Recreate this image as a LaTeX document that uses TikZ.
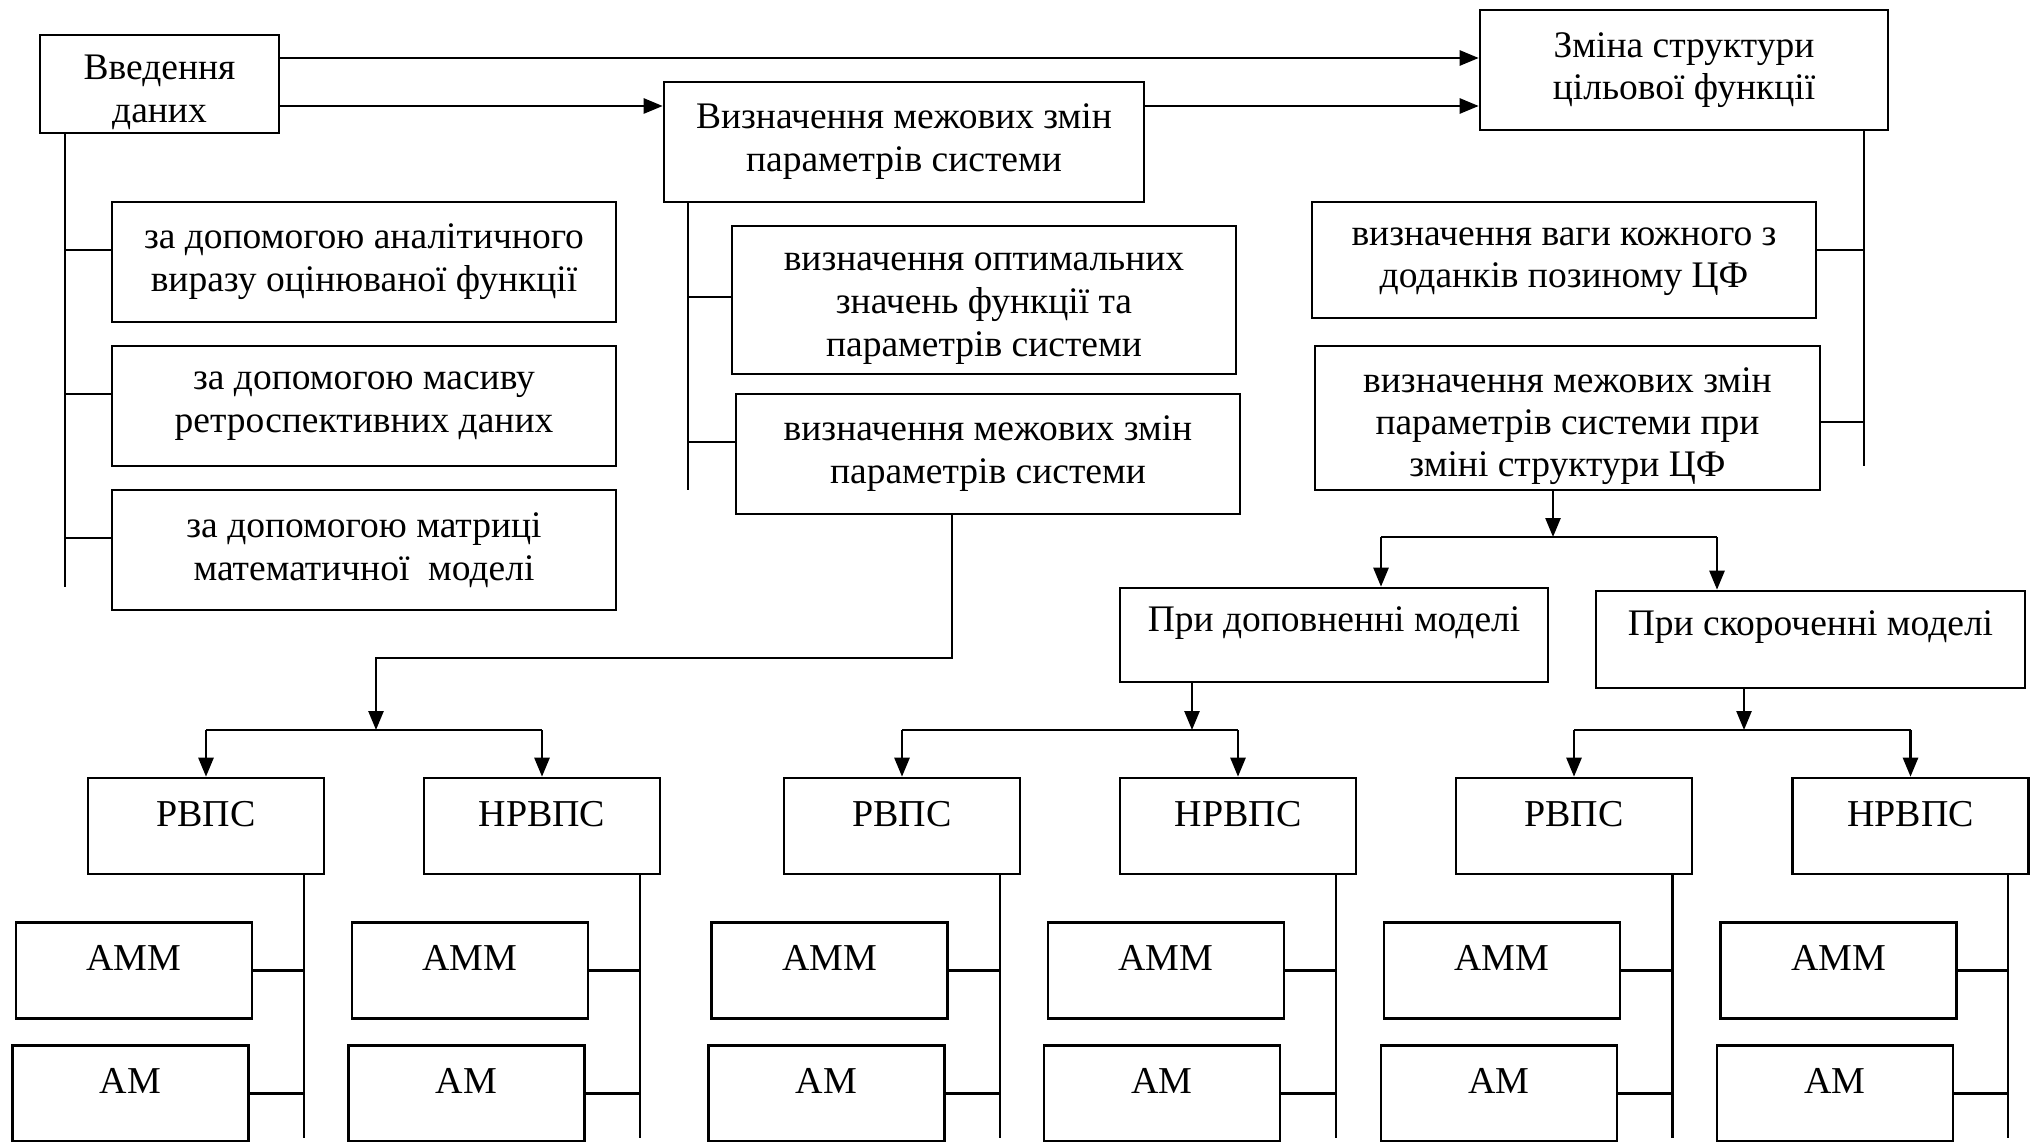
\documentclass[tikz,border=0pt]{standalone}
\usepackage{fontspec}
\setmainfont{Liberation Serif}
\usetikzlibrary{arrows.meta}
\newcommand{\boxfont}{\fontsize{37.5}{43}\selectfont}
\newcommand{\sidefont}{\fontsize{37.5}{42}\selectfont}
\newcommand{\leaffont}{\fontsize{38}{44}\selectfont}
\newcommand{\pushdown}[1]{\rule{0pt}{#1}}

\begin{document}
\begin{tikzpicture}[x=1pt, y=-1pt, line width=2.6pt,
  box/.style={draw, rectangle, align=center, inner sep=0pt, font=\boxfont},
  sidebox/.style={box, font=\sidefont},
  casebox/.style={box, font=\sidefont, text height=21pt, text depth=29pt},
  leaf/.style={draw, rectangle, inner sep=0pt, font=\leaffont, text height=26pt, text depth=26pt, minimum width=236pt, minimum height=96pt},
  arr/.style={-{Triangle[length=19pt, width=15pt]}}]
  \useasboundingbox (0,0) rectangle (2034,1142);

  \node[box, minimum width=239pt, minimum height=98pt] (vvod) at (159.5,84) {\pushdown{41pt}Введення\\даних};
  \node[box, minimum width=480pt, minimum height=120pt] (mezh) at (904,142) {Визначення межових змін\\параметрів системи};
  \node[sidebox, minimum width=408pt, minimum height=120pt] (zmina) at (1684,70) {Зміна структури\\цільової функції};

  \node[box, minimum width=504pt, minimum height=120pt] (analit) at (364,262) {за допомогою аналітичного\\виразу оцінюваної функції};
  \node[box, minimum width=504pt, minimum height=120pt] (masyv) at (364,406) {за допомогою масиву\\ретроспективних даних};
  \node[box, minimum width=504pt, minimum height=120pt] (matr) at (364,550) {за допомогою матриці\\математичної\ \ моделі};

  \node[box, minimum width=504pt, minimum height=148pt] (optim) at (984,300) {\pushdown{35pt}визначення оптимальних\\значень функції та\\параметрів системи};
  \node[box, minimum width=504pt, minimum height=120pt] (mezh2) at (988,454) {визначення межових змін\\параметрів системи};

  \node[sidebox, minimum width=504pt, minimum height=116pt] (vaga) at (1564,260) {\pushdown{21pt}визначення ваги кожного з\\доданків позиному ЦФ};
  \node[sidebox, minimum width=505pt, minimum height=144pt] (mezh3) at (1567.5,418) {\pushdown{42pt}визначення межових змін\\параметрів системи при\\зміні структури ЦФ};

  \node[casebox, minimum width=428pt, minimum height=94pt] (dop) at (1334,635) {При доповненні моделі};
  \node[casebox, minimum width=429pt, minimum height=97pt] (skor) at (1810.5,639.5) {При скороченні моделі};

  \node[leaf] (rvps1) at (206,826) {РВПС};
  \node[leaf] (nrvps1) at (542,826) {НРВПС};
  \node[leaf] (rvps2) at (902,826) {РВПС};
  \node[leaf] (nrvps2) at (1238,826) {НРВПС};
  \node[leaf] (rvps3) at (1574,826) {РВПС};
  \node[leaf] (nrvps3) at (1910.5,826) {НРВПС};

  \node[leaf] (amm1) at (134,970.5) {АММ};
  \node[leaf] (am1) at (130.5,1093.5) {АМ};
  \node[leaf] (amm2) at (470,970.5) {АММ};
  \node[leaf] (am2) at (466.5,1093.5) {АМ};
  \node[leaf] (amm3) at (829.5,970.5) {АММ};
  \node[leaf] (am3) at (826.5,1093.5) {АМ};
  \node[leaf] (amm4) at (1166,970.5) {АММ};
  \node[leaf] (am4) at (1162,1093.5) {АМ};
  \node[leaf] (amm5) at (1502,970.5) {АММ};
  \node[leaf] (am5) at (1499,1093.5) {АМ};
  \node[leaf] (amm6) at (1838.5,970.5) {АММ};
  \node[leaf] (am6) at (1835,1093.5) {АМ};

  \draw[arr] ([yshift=26pt]vvod.east) -- ([yshift=26pt]vvod.east -| zmina.west);
  \draw[arr] ([yshift=-22pt]vvod.east) -- ([yshift=-22pt]vvod.east -| mezh.west);
  \draw[arr] ([yshift=36pt]mezh.east) -- ([yshift=36pt]mezh.east -| zmina.west);

  \coordinate (ta) at (65,587);
  \draw (vvod.south -| ta) -- (ta);
  \draw ([yshift=12pt]analit.west) -- ([yshift=12pt]analit.west -| ta);
  \draw ([yshift=12pt]masyv.west) -- ([yshift=12pt]masyv.west -| ta);
  \draw ([yshift=12pt]matr.west) -- ([yshift=12pt]matr.west -| ta);

  \coordinate (tb) at (688,490);
  \draw (mezh.south -| tb) -- (tb);
  \draw ([yshift=3pt]optim.west) -- ([yshift=3pt]optim.west -| tb);
  \draw ([yshift=12pt]mezh2.west) -- ([yshift=12pt]mezh2.west -| tb);

  \coordinate (tc) at (1864,466);
  \draw (zmina.south -| tc) -- (tc);
  \draw ([yshift=10pt]vaga.east) -- ([yshift=10pt]vaga.east -| tc);
  \draw ([yshift=-4pt]mezh3.east) -- ([yshift=-4pt]mezh3.east -| tc);

  \coordinate (k1) at (376,658);
  \coordinate (j1) at (376,730);
  \draw[arr] ([xshift=-36pt]mezh2.south) |- (k1) -- (j1);
  \draw (rvps1.north |- j1) -- (nrvps1.north |- j1);
  \draw[arr] (rvps1.north |- j1) -- (rvps1.north);
  \draw[arr] (nrvps1.north |- j1) -- (nrvps1.north);

  \coordinate (j2) at (1553,537);
  \coordinate (d0) at (1381,537);
  \coordinate (e0) at (1717,537);
  \draw[arr] (mezh3.south -| j2) -- (j2);
  \draw (d0) -- (e0);
  \draw[arr] (d0) -- (d0 |- dop.north);
  \draw[arr] (e0) -- (e0 |- skor.north);

  \coordinate (j3) at (1192,730);
  \draw[arr] (dop.south -| j3) -- (j3);
  \draw (rvps2.north |- j3) -- (nrvps2.north |- j3);
  \draw[arr] (rvps2.north |- j3) -- (rvps2.north);
  \draw[arr] (nrvps2.north |- j3) -- (nrvps2.north);

  \coordinate (j4) at (1744,730);
  \draw[arr] (skor.south -| j4) -- (j4);
  \draw (rvps3.north |- j4) -- (nrvps3.north |- j4);
  \draw[arr] (rvps3.north |- j4) -- (rvps3.north);
  \draw[arr] (nrvps3.north |- j4) -- (nrvps3.north);

  \coordinate (v1) at (304,1138);
  \coordinate (v2) at (640,1138);
  \coordinate (v3) at (1000,1138);
  \coordinate (v4) at (1336,1138);
  \coordinate (v5) at (1672.5,1138);
  \coordinate (v6) at (2008,1138);
  \draw (rvps1.south -| v1) -- (v1);
  \draw (amm1.east) -- (amm1.east -| v1);
  \draw (am1.east) -- (am1.east -| v1);
  \draw (nrvps1.south -| v2) -- (v2);
  \draw (amm2.east) -- (amm2.east -| v2);
  \draw (am2.east) -- (am2.east -| v2);
  \draw (rvps2.south -| v3) -- (v3);
  \draw (amm3.east) -- (amm3.east -| v3);
  \draw (am3.east) -- (am3.east -| v3);
  \draw (nrvps2.south -| v4) -- (v4);
  \draw (amm4.east) -- (amm4.east -| v4);
  \draw (am4.east) -- (am4.east -| v4);
  \draw (rvps3.south -| v5) -- (v5);
  \draw (amm5.east) -- (amm5.east -| v5);
  \draw (am5.east) -- (am5.east -| v5);
  \draw (nrvps3.south -| v6) -- (v6);
  \draw (amm6.east) -- (amm6.east -| v6);
  \draw (am6.east) -- (am6.east -| v6);
\end{tikzpicture}
\end{document}
